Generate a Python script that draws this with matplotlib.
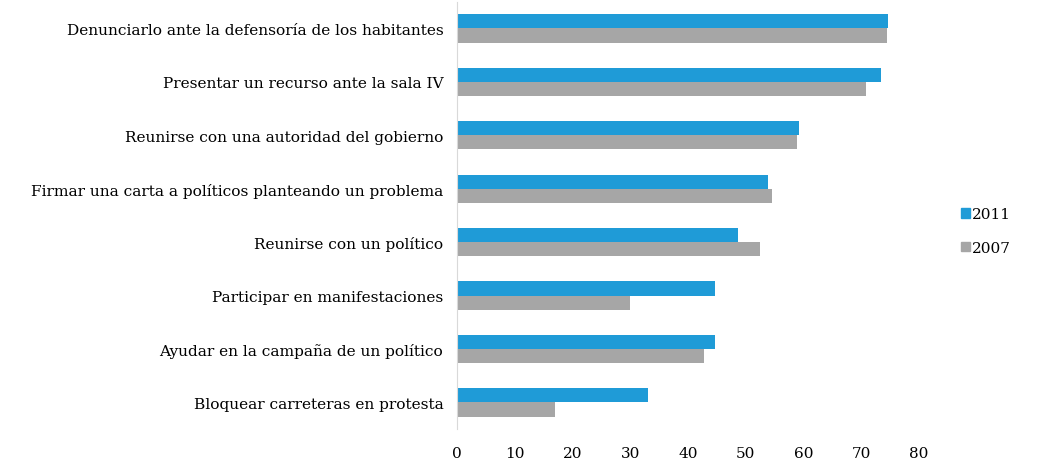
import numpy as np
import matplotlib.pyplot as plt
from matplotlib.patches import Patch

categorias = [
    "Denunciarlo ante la defensoría de los habitantes",
    "Presentar un recurso ante la sala IV",
    "Reunirse con una autoridad del gobierno",
    "Firmar una carta a políticos planteando un problema",
    "Reunirse con un político",
    "Participar en manifestaciones",
    "Ayudar en la campaña de un político",
    "Bloquear carreteras en protesta",
]
v2011 = [74.7, 73.4, 59.2, 53.9, 48.7, 44.6, 44.6, 33.0]
v2007 = [74.4, 70.8, 58.8, 54.6, 52.5, 30.0, 42.8, 16.9]
ticks = [0, 10, 20, 30, 40, 50, 60, 70, 80]

azul = '#1f9bd7'
gris = '#a6a6a6'

plt.rcParams['font.family'] = ['DejaVu Serif']

fig = plt.figure(figsize=(10.39, 4.64), dpi=100)
ax = fig.add_axes([0.44, 0.073, 0.4445, 0.921])

y = np.arange(len(categorias))
h = 0.265
ax.barh(y - h / 2, v2011, height=h, color=azul, label='2011')
ax.barh(y + h / 2, v2007, height=h, color=gris, label='2007')

ax.set_ylim(len(categorias) - 0.5, -0.5)
ax.set_xlim(0, 80)
ax.set_xticks(ticks)
ax.set_yticks(y)
ax.set_yticklabels(categorias, fontsize=11.1)
ax.tick_params(axis='x', labelsize=11, length=0, pad=12)
ax.tick_params(axis='y', length=0, pad=10)

for s in ['top', 'right', 'bottom']:
    ax.spines[s].set_visible(False)
ax.spines['left'].set_color('#d9d9d9')

handles = [Patch(color=azul), Patch(color=gris)]
fig.legend(handles, ['2011', '2007'], loc='center left',
           bbox_to_anchor=(0.912, 0.5), frameon=False, fontsize=11,
           handlelength=0.6, handleheight=0.6, handletextpad=0.1,
           labelspacing=1.3)

fig.savefig('out.png', dpi=100)
